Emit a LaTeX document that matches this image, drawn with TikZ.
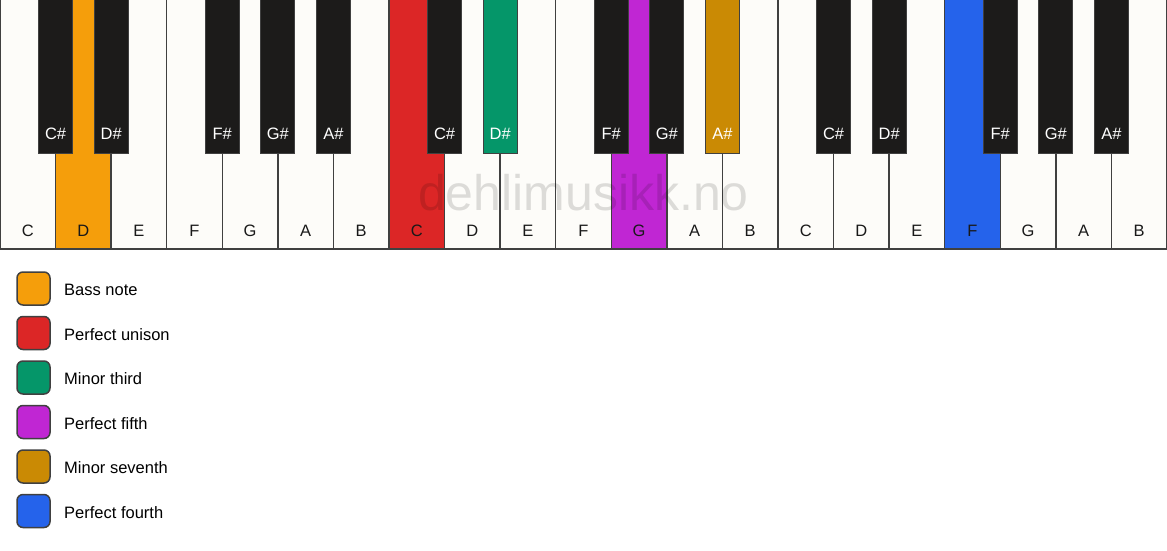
\documentclass[tikz,border=0pt]{standalone}
\usepackage{fontspec}
\setmainfont{Liberation Sans}
\definecolor{keywhite}{HTML}{FDFCF9}
\definecolor{keyblack}{HTML}{1C1B1A}
\definecolor{keyline}{HTML}{404040}
\definecolor{bass}{HTML}{F59E0B}
\definecolor{unison}{HTML}{DC2626}
\definecolor{minthird}{HTML}{059669}
\definecolor{perffifth}{HTML}{C026D3}
\definecolor{minseventh}{HTML}{CA8A04}
\definecolor{perffourth}{HTML}{2563EB}
\tikzset{
  whitekey/.style={draw=keyline, line width=1.5pt},
  blackkey/.style={draw=keyline, line width=1pt},
  keylabel/.style={font=\fontsize{16.5}{19}\selectfont, inner sep=0pt, anchor=base},
  legendbox/.style={draw=keyline, line width=1.5pt, rounded corners=6pt,
    minimum size=33pt, inner sep=0pt},
}
\begin{document}
\begin{tikzpicture}[x=1pt,y=-1pt]
\useasboundingbox[fill=white] (0,0) rectangle (1167,550);
% white keys
\foreach \i/\n/\c in {0/C/keywhite,1/D/bass,2/E/keywhite,3/F/keywhite,4/G/keywhite,
    5/A/keywhite,6/B/keywhite,7/C/unison,8/D/keywhite,9/E/keywhite,10/F/keywhite,
    11/G/perffifth,12/A/keywhite,13/B/keywhite,14/C/keywhite,15/D/keywhite,
    16/E/keywhite,17/F/perffourth,18/G/keywhite,19/A/keywhite,20/B/keywhite}
{
  \draw[whitekey, fill=\c] (\i*55.571,-2) rectangle ++(55.571,251);
  \node[keylabel, text=black!90] (w\i) at (\i*55.571+27.786,236) {\n};
}
\node[font=\fontsize{50}{60}\selectfont, text=black, opacity=0.13] (mark)
  at (583.5,193) {dehlimusikk.no};
% black keys
\foreach \b/\n/\c in {1/C/keyblack,2/D/keyblack,4/F/keyblack,5/G/keyblack,6/A/keyblack,
    8/C/keyblack,9/D/minthird,11/F/keyblack,12/G/keyblack,13/A/minseventh,
    15/C/keyblack,16/D/keyblack,18/F/keyblack,19/G/keyblack,20/A/keyblack}
{
  \draw[blackkey, fill=\c] (\b*55.571-17,-2) rectangle ++(34,155);
  \node[keylabel, text=white] (b\b) at (\b*55.571,139) {\n\#};
}
% legend
\foreach \k/\c/\t in {0/bass/Bass note,1/unison/Perfect unison,2/minthird/Minor third,
    3/perffifth/Perfect fifth,4/minseventh/Minor seventh,5/perffourth/Perfect fourth}
{
  \node[legendbox, fill=\c] (box\k) at (33.5,288.5+\k*44.5) {};
  \node[keylabel, anchor=base west] (txt\k) at (64,295.7+\k*44.5) {\t};
}
\end{tikzpicture}
\end{document}
